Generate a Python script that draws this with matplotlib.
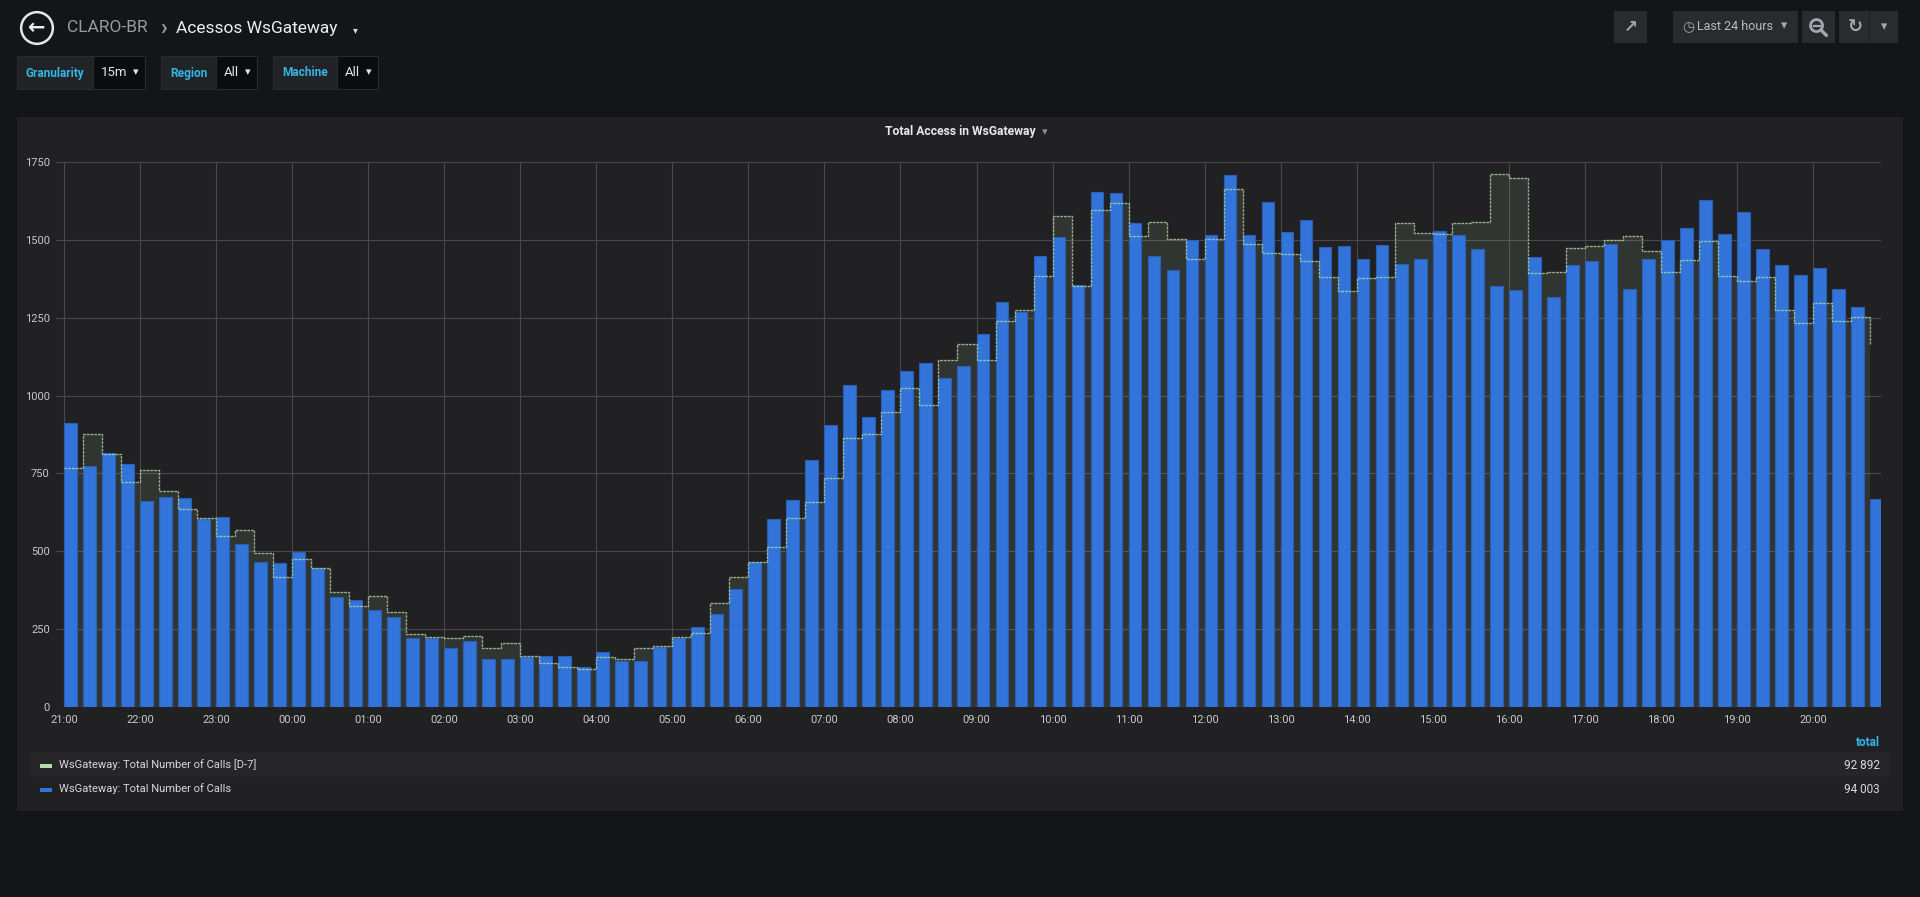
import matplotlib
matplotlib.use("Agg")
import matplotlib.pyplot as plt
from matplotlib.patches import Rectangle, Circle
from matplotlib.lines import Line2D
import numpy as np

plt.rcParams['font.family'] = ['Roboto', 'DejaVu Sans']

# ---- data (15 minute buckets starting 21:00) ----
hour_labels = ['21:00', '22:00', '23:00', '00:00', '01:00', '02:00', '03:00', '04:00',
               '05:00', '06:00', '07:00', '08:00', '09:00', '10:00', '11:00', '12:00',
               '13:00', '14:00', '15:00', '16:00', '17:00', '18:00', '19:00', '20:00']

calls = [911, 775, 817, 781, 663, 673, 672, 605, 610, 525, 467, 462,
         497, 447, 354, 345, 312, 289, 222, 220, 189, 212, 153, 155,
         160, 164, 163, 130, 176, 148, 148, 193, 220, 258, 300, 379,
         464, 605, 664, 794, 904, 1033, 932, 1019, 1080, 1106, 1058, 1095,
         1199, 1301, 1268, 1449, 1510, 1356, 1654, 1651, 1555, 1449, 1404, 1498,
         1515, 1707, 1515, 1621, 1526, 1563, 1478, 1481, 1440, 1484, 1423, 1437,
         1530, 1514, 1471, 1353, 1340, 1444, 1318, 1418, 1433, 1486, 1342, 1439,
         1498, 1539, 1629, 1519, 1590, 1471, 1420, 1388, 1409, 1342, 1286, 668]

calls_d7 = [766, 876, 812, 722, 760, 694, 635, 606, 550, 567, 496, 418,
            476, 447, 370, 325, 355, 304, 233, 225, 220, 227, 191, 205,
            165, 142, 128, 121, 159, 155, 188, 197, 224, 239, 333, 418,
            465, 515, 608, 658, 734, 863, 878, 948, 1025, 970, 1114, 1166,
            1115, 1239, 1276, 1384, 1576, 1352, 1596, 1619, 1513, 1558, 1503, 1438,
            1503, 1663, 1486, 1457, 1455, 1433, 1381, 1336, 1378, 1382, 1555, 1521,
            1519, 1555, 1558, 1712, 1700, 1392, 1397, 1473, 1480, 1499, 1513, 1465,
            1398, 1434, 1496, 1383, 1369, 1381, 1276, 1232, 1297, 1240, 1251, 1162]

series_names = ['WsGateway: Total Number of Calls [D-7]', 'WsGateway: Total Number of Calls']
series_totals = [92892, 94003]
y_ticks = [0, 250, 500, 750, 1000, 1250, 1500, 1750]

# ---- colours ----
PAGE = '#141517'
PANEL = '#212124'
BLUE = '#3274D9'
GREEN = '#B7DBAB'
CYAN = '#33b5e5'
TEXT = '#d8d9da'
GRID = '#48484b'

W, H = 1920, 897
fig = plt.figure(figsize=(W / 100, H / 100), dpi=100, facecolor=PAGE)


def fx(x):
    return x / W


def fy(y):
    return 1 - y / H


def box(x0, y0, x1, y1, color, edge='none', z=-5):
    fig.patches.append(Rectangle((fx(x0), fy(y1)), (x1 - x0) / W, (y1 - y0) / H,
                                 transform=fig.transFigure, facecolor=color,
                                 edgecolor=edge, linewidth=0.8, zorder=z))


def txt(x, y, s, **kw):
    fig.text(fx(x), fy(y), s, **kw)


# ---- header ----
ax_icon = fig.add_axes([fx(19), fy(46), 36 / W, 36 / H])
ax_icon.set_xlim(-1, 1)
ax_icon.set_ylim(-1, 1)
ax_icon.set_aspect('equal')
ax_icon.axis('off')
ax_icon.add_patch(Circle((0, 0), 0.88, facecolor='none', edgecolor='#e6e6e6', linewidth=1.8))
ax_icon.text(0, 0.02, '\u2190', ha='center', va='center', color='#f0f0f0',
             fontsize=15, fontweight='bold', family=['DejaVu Sans'])

txt(67, 28, 'CLARO-BR', color='#9a9a9c', fontsize=12.5, va='center', ha='left')
txt(160, 28, '\u203a', color='#9a9a9c', fontsize=16, va='center', ha='left', fontweight='bold')
txt(176, 28, 'Acessos WsGateway', color='#eceef1', fontsize=12.5, va='center', ha='left')
txt(353, 30, '\u25be', color='#d8d9da', fontsize=7, va='center', ha='left',
    family=['DejaVu Sans'])

# template variables
variables = [('Granularity', '15m', 17, 93, 145),
             ('Region', 'All', 161, 216, 257),
             ('Machine', 'All', 273, 337, 378)]
for label, value, x0, x1, x2 in variables:
    box(x0, 56, x1, 89, '#222326', edge='#2a2b2e')
    box(x1, 56, x2, 89, '#0b0c0e', edge='#2a2b2e')
    txt((x0 + x1) / 2, 73, label, color=CYAN, fontsize=8.6, fontweight='semibold',
        ha='center', va='center')
    txt(x1 + 8, 73, value, color='#e6e6e6', fontsize=9.5, ha='left', va='center')
    txt(x2 - 6, 72, '\u25be', color='#e6e6e6', fontsize=8, ha='right', va='center',
        family=['DejaVu Sans'])

# top-right buttons
ICON = '#a3a7ad'
box(1614, 11, 1647, 43, '#2a2b2e')
box(1673, 11, 1798, 43, '#2a2b2e')
box(1802, 11, 1835, 43, '#2a2b2e')
box(1839, 11, 1898, 43, '#2a2b2e')
fig.lines.append(Line2D([fx(1869), fx(1869)], [fy(12), fy(42)], transform=fig.transFigure,
                        color='#1f2023', linewidth=1))
txt(1631, 27, '\u2197', color=ICON, fontsize=12, ha='center', va='center',
    family=['DejaVu Sans'], fontweight='bold')
txt(1688, 27, '\u25f7', color=ICON, fontsize=10, ha='center', va='center',
    family=['DejaVu Sans'])
txt(1697, 27, 'Last 24 hours', color='#b9bcc0', fontsize=9, ha='left', va='center')
txt(1784, 26, '\u25be', color=ICON, fontsize=9, ha='center', va='center',
    family=['DejaVu Sans'])
ax_mag = fig.add_axes([fx(1806), fy(39), 24 / W, 24 / H])
ax_mag.set_xlim(-1, 1)
ax_mag.set_ylim(-1, 1)
ax_mag.set_aspect('equal')
ax_mag.axis('off')
ax_mag.add_patch(Circle((-0.12, 0.12), 0.5, facecolor='none', edgecolor=ICON, linewidth=2))
ax_mag.plot([0.25, 0.7], [-0.25, -0.7], color=ICON, linewidth=2.4, solid_capstyle='round')
ax_mag.plot([-0.37, 0.13], [0.12, 0.12], color=ICON, linewidth=1.6)
txt(1855, 27, '\u21bb', color=ICON, fontsize=13, ha='center', va='center',
    family=['DejaVu Sans'], fontweight='bold')
txt(1884, 27, '\u25be', color=ICON, fontsize=9, ha='center', va='center',
    family=['DejaVu Sans'])

# ---- panel ----
box(17, 117, 1903, 811, PANEL)
txt(960, 131, 'Total Access in WsGateway', color='#e6e8ea', fontsize=8.7,
    fontweight='bold', ha='center', va='center')
txt(1042, 132, '\u25be', color='#8e8e90', fontsize=8, ha='left', va='center',
    family=['DejaVu Sans'])

# ---- chart ----
x_left, x_right, y_top, y_bot = 56, 1881, 162, 707
ax = fig.add_axes([fx(x_left), fy(y_bot), (x_right - x_left) / W, (y_bot - y_top) / H])
ax.patch.set_alpha(0)

px_per_hour = 76.0
t = np.arange(len(calls)) * 0.25          # hours after 21:00
x_start = -(64 - x_left) / px_per_hour
ax.set_xlim(x_start, x_start + 24)
ax.set_ylim(0, 1750)

ax.fill_between(t, calls_d7, step='post', color=GREEN, alpha=0.11, linewidth=0, zorder=1)
ax.bar(t, calls, width=0.168, align='edge', color=BLUE, edgecolor='#2b5fb4',
       linewidth=0.8, zorder=2)
ax.step(t, calls_d7, where='post', color=GREEN, linewidth=1.0, alpha=0.75,
        linestyle=(0, (2, 0.7)), zorder=3)

ax.set_yticks(y_ticks)
ax.set_yticklabels([str(v) for v in y_ticks])
ax.set_xticks(np.arange(len(hour_labels)))
ax.set_xticklabels(hour_labels)
ax.tick_params(axis='both', length=0, colors='#c8c9ca', labelsize=8)
ax.tick_params(axis='y', pad=4.5)
ax.tick_params(axis='x', pad=5.5)
ax.grid(True, color=GRID, linewidth=0.8)
ax.set_axisbelow(True)
for s in ax.spines.values():
    s.set_visible(False)

# ---- legend ----
txt(1880, 742, 'total', color=CYAN, fontsize=8.5, fontweight='bold', ha='right', va='center')
box(30, 753, 1890, 777, '#262629')
legend_colors = [GREEN, BLUE]
for i, (name, total, col) in enumerate(zip(series_names, series_totals, legend_colors)):
    yy = 765 + i * 24
    box(40, yy - 1, 52, yy + 3, col, z=-4)
    txt(59, yy, name, color=TEXT, fontsize=8, ha='left', va='center')
    txt(1880, yy, f'{total:,}'.replace(',', ' '), color=TEXT, fontsize=8.5,
        ha='right', va='center')

fig.savefig('out.png', dpi=100, facecolor=PAGE)
